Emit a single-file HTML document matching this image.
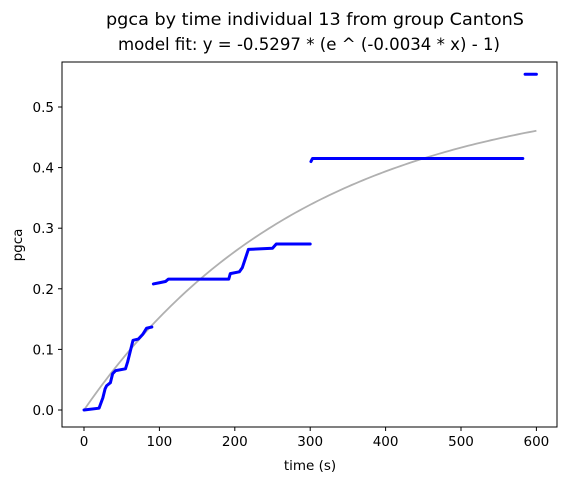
<!DOCTYPE html>
<html><head><meta charset="utf-8"><style>
body{margin:0;background:#fff;font-family:"Liberation Sans",sans-serif}
svg text{font-family:"DejaVu Sans","Liberation Sans",sans-serif;fill:#000}
</style></head><body>
<svg id="chart" width="567" height="480" xmlns="http://www.w3.org/2000/svg">
<text x="315" y="25" font-size="16.5" text-anchor="middle" textLength="418" lengthAdjust="spacingAndGlyphs">pgca by time individual 13 from group CantonS</text>
<text x="309" y="50" font-size="16.5" text-anchor="middle" textLength="382" lengthAdjust="spacingAndGlyphs">model fit: y = -0.5297 * (e ^ (-0.0034 * x) - 1)</text>
<g id="plot"></g>
<rect x="62" y="62" width="495" height="365" fill="none" stroke="#000" stroke-width="1"/>
<text x="310" y="470" font-size="13.5" text-anchor="middle">time (s)</text>
<text transform="translate(22,245) rotate(-90)" font-size="13.5" text-anchor="middle">pgca</text>
</svg>
<script>
const times = [0,20,22,25,28,30,35,38,42,55,58,62,65,72,78,83,90,null,92,100,108,112,192,194,206,210,214,218,250,255,300,null,301,303,582,null,585,600];
const values = [0,0.003,0.01,0.02,0.035,0.04,0.045,0.06,0.065,0.068,0.08,0.1,0.115,0.117,0.125,0.135,0.137,null,0.208,0.21,0.212,0.216,0.216,0.225,0.228,0.235,0.25,0.265,0.267,0.274,0.274,null,0.41,0.415,0.415,null,0.554,0.554];
const fitA = 0.5297, fitK = 0.0034, fitMax = 600;
const xTicks = [0,100,200,300,400,500,600];
const yTicks = [0.0,0.1,0.2,0.3,0.4,0.5];
const xs = t => 84 + t*0.754;
const ys = v => 410 - v*606;
const NS = "http://www.w3.org/2000/svg";
const g = document.getElementById('plot');
function mk(tag, attrs){const e=document.createElementNS(NS,tag);for(const k in attrs)e.setAttribute(k,attrs[k]);g.appendChild(e);return e;}
xTicks.forEach(t=>{
  const l=mk('line',{x1:xs(t),x2:xs(t),y1:427,y2:431,stroke:'#000'});
  
  
  const tx=mk('text',{x:xs(t),y:446,'font-size':13.5,'text-anchor':'middle'});tx.textContent=t;
  
  
});
yTicks.forEach(v=>{
  const l=mk('line',{x1:58,x2:62,y1:ys(v),y2:ys(v),stroke:'#000'});
  
  
  const tx=mk('text',{x:54,y:ys(v)+5,'font-size':13.5,'text-anchor':'end'});tx.textContent=v.toFixed(1);
  
  
});
let fd='';
for(let t=0;t<=fitMax;t+=5){fd+=(t?'L':'M')+xs(t)+','+ys(fitA*(1-Math.exp(-fitK*t)));}
const fit=mk('path',{d:fd,fill:'none',stroke:'#b0b0b0','stroke-width':1.8});


let d='',start=true;
for(let i=0;i<times.length;i++){
  if(times[i]===null){start=true;continue;}
  d+=(start?'M':'L')+xs(times[i])+','+ys(values[i]);start=false;
}
const s=mk('path',{d:d,fill:'none',stroke:'#0000ff','stroke-width':3,'stroke-linejoin':'round','stroke-linecap':'round'});


</script>
</body></html>
